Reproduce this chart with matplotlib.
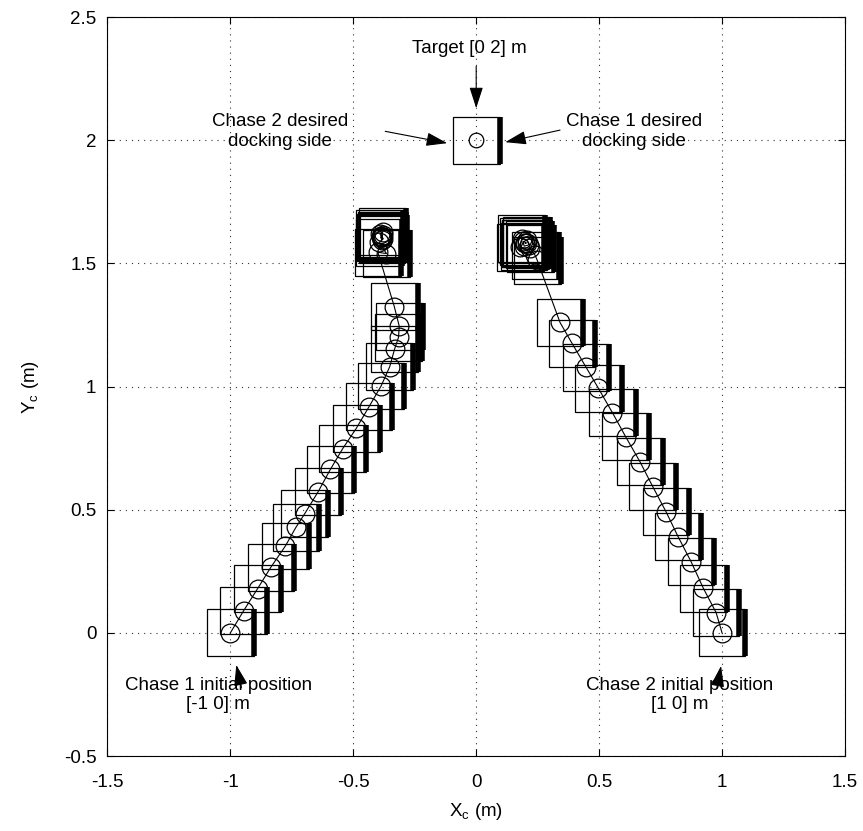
import matplotlib
matplotlib.use("Agg")
import matplotlib.pyplot as plt
from matplotlib.patches import Rectangle

plt.rcParams['font.family'] = ['Liberation Sans', 'DejaVu Sans']

# Chase 1 centre positions (m), from start to docking hold
chase1_x = [-1.000, -0.946, -0.889, -0.835, -0.776, -0.733, -0.698, -0.643, -0.593,
            -0.543, -0.488, -0.436, -0.387, -0.352, -0.332, -0.316, -0.313, -0.333,
            -0.400, -0.365, -0.395, -0.378, -0.392, -0.380, -0.386, -0.383, -0.389,
            -0.381, -0.385, -0.384, -0.383]
chase1_y = [0.000, 0.090, 0.180, 0.267, 0.353, 0.429, 0.483, 0.573, 0.664,
            0.748, 0.830, 0.918, 1.002, 1.080, 1.152, 1.200, 1.245, 1.324,
            1.545, 1.540, 1.585, 1.600, 1.620, 1.628, 1.612, 1.596, 1.606,
            1.615, 1.609, 1.607, 1.608]

# Chase 2 centre positions (m)
chase2_x = [1.000, 0.976, 0.924, 0.874, 0.821, 0.772, 0.718, 0.666, 0.608,
            0.554, 0.497, 0.447, 0.390, 0.341, 0.248, 0.240, 0.220, 0.179,
            0.185, 0.206, 0.215, 0.195, 0.190, 0.205, 0.199, 0.200]
chase2_y = [0.000, 0.082, 0.181, 0.289, 0.391, 0.492, 0.594, 0.695, 0.796,
            0.894, 0.993, 1.078, 1.175, 1.260, 1.513, 1.532, 1.561, 1.565,
            1.600, 1.595, 1.575, 1.570, 1.590, 1.583, 1.581, 1.582]

target_xy = (0.0, 2.0)
body_side = 0.19  # square body edge length (m)

x_ticks = [-1.5, -1, -0.5, 0, 0.5, 1, 1.5]
x_tick_labels = ['-1.5', '-1', '-0.5', '0', '0.5', '1', '1.5']
y_ticks = [-0.5, 0, 0.5, 1, 1.5, 2, 2.5]
y_tick_labels = ['-0.5', '0', '0.5', '1', '1.5', '2', '2.5']

fig = plt.figure(figsize=(8.63, 8.31), dpi=100)
ax = fig.add_axes([0.1245, 0.0902, 0.8546, 0.8893])

half = body_side / 2.0


def draw_body(x, y, circ_ms):
    ax.add_patch(Rectangle((x - half, y - half), body_side, body_side,
                           fill=False, edgecolor='black', linewidth=0.9, zorder=3))
    # docking face
    ax.vlines(x + half, y - half, y + half, colors='black', linewidth=4.0, zorder=3)
    ax.plot([x], [y], marker='o', ms=circ_ms, mfc='none', mec='black',
            mew=0.9, zorder=4)


for xs, ys in ((chase1_x, chase1_y), (chase2_x, chase2_y)):
    ax.plot(xs, ys, color='black', linewidth=0.8, zorder=4)
    for x, y in zip(xs, ys):
        draw_body(x, y, 13.5)

draw_body(target_xy[0], target_xy[1], 10.5)

arrow = dict(arrowstyle='-|>,head_length=1.3,head_width=0.42', color='black',
             linewidth=0.8, shrinkA=0, shrinkB=0)
fs = 13.5
ax.annotate('', xy=(0.0, 2.13), xytext=(0.0, 2.30), arrowprops=arrow)
ax.text(-0.028, 2.373, 'Target [0 2] m', ha='center', va='center', fontsize=fs)

ax.annotate('', xy=(-0.118, 1.988), xytext=(-0.37, 2.036), arrowprops=arrow)
ax.text(-0.797, 2.035, 'Chase 2 desired\ndocking side', ha='center', va='center',
        fontsize=fs, linespacing=1.2)

ax.annotate('', xy=(0.118, 1.992), xytext=(0.341, 2.041), arrowprops=arrow)
ax.text(0.642, 2.035, 'Chase 1 desired\ndocking side', ha='center', va='center',
        fontsize=fs, linespacing=1.2)

ax.annotate('', xy=(-0.976, -0.13), xytext=(-0.955, -0.223), arrowprops=arrow)
ax.text(-1.049, -0.252, 'Chase 1 initial position\n[-1 0] m', ha='center',
        va='center', fontsize=fs, linespacing=1.2)

ax.annotate('', xy=(0.996, -0.134), xytext=(0.980, -0.223), arrowprops=arrow)
ax.text(0.829, -0.252, 'Chase 2 initial position\n[1 0] m', ha='center',
        va='center', fontsize=fs, linespacing=1.2)

ax.set_xlim(-1.5, 1.5)
ax.set_ylim(-0.5, 2.5)
ax.set_xticks(x_ticks)
ax.set_xticklabels(x_tick_labels)
ax.set_yticks(y_ticks)
ax.set_yticklabels(y_tick_labels)
ax.tick_params(direction='in', length=5, width=0.8, labelsize=fs,
               top=True, right=True)
ax.tick_params(axis='x', pad=13)
ax.tick_params(axis='y', pad=8)
ax.grid(True, color='#333333', linestyle=(0, (1, 4.5)), linewidth=0.8)
ax.set_axisbelow(True)
for s in ax.spines.values():
    s.set_linewidth(0.8)

ax.set_xlabel('X$_\\mathregular{c}$ (m)', fontsize=fs, labelpad=7)
ax.set_ylabel('Y$_\\mathregular{c}$ (m)', fontsize=fs, labelpad=16)

fig.savefig('out.png', dpi=100)
